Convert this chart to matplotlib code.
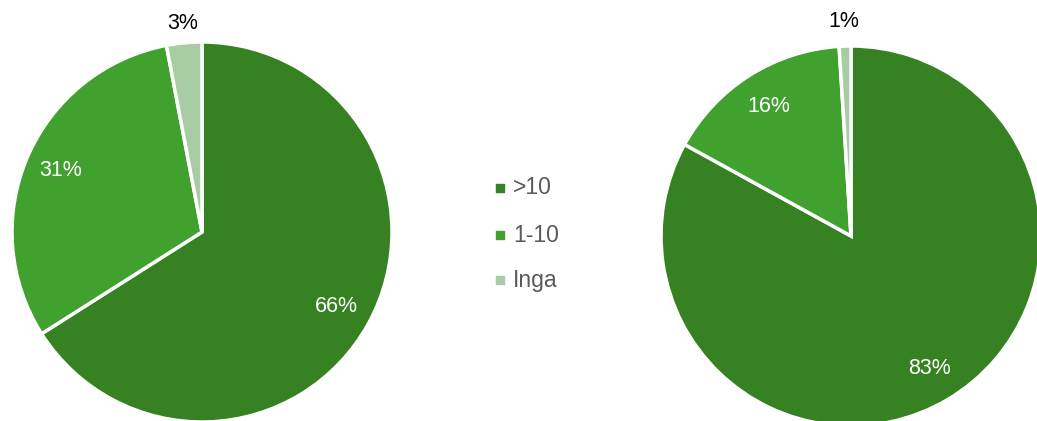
import matplotlib.pyplot as plt
import numpy as np

plt.rcParams['font.family'] = ['Liberation Sans', 'DejaVu Sans']

# data
categories = ['>10', '1-10', 'Inga']
left_values = [66, 31, 3]
right_values = [83, 16, 1]
colors = ['#368222', '#40A12E', '#A8CDA4']

W, H = 1037, 421
fig = plt.figure(figsize=(W / 100, H / 100), dpi=100)
ax = fig.add_axes([0, 0, 1, 1])
ax.set_xlim(0, W)
ax.set_ylim(0, H)
ax.set_aspect('equal')
ax.axis('off')

R = 190


def draw_pie(values, cx, cy, out_d):
    wedges, _ = ax.pie(values, colors=colors, center=(cx, cy), radius=R,
                       startangle=90, counterclock=False,
                       wedgeprops=dict(edgecolor='white', linewidth=2.5))
    for w, v in zip(wedges, values):
        ang = np.deg2rad((w.theta1 + w.theta2) / 2)
        if v >= 10:
            d, col = 0.81 * R, 'white'
        else:
            d, col = out_d * R, 'black'
        ax.text(cx + d * np.cos(ang), cy + d * np.sin(ang), f'{v}%',
                ha='center', va='center', fontsize=15.5, color=col)


draw_pie(left_values, 202, H - 232, 1.10)
draw_pie(right_values, 851, H - 236, 1.13)
ax.set_xlim(0, W)
ax.set_ylim(0, H)

# legend
leg_y = [188, 235, 280]
for cat, col, y in zip(categories, colors, leg_y):
    ax.scatter([500], [H - y], marker='s', s=40, color=col)
    ax.text(513, H - y, cat, ha='left', va='center', fontsize=16.5, color='#595959')

fig.savefig('out.png', dpi=100)
